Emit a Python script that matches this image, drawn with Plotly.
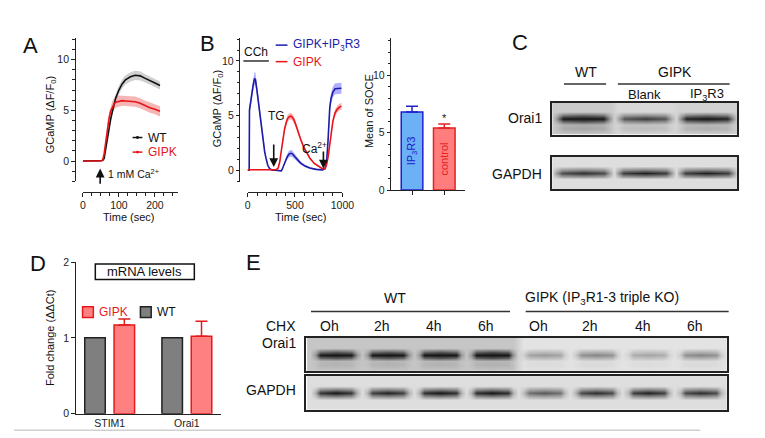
import plotly.graph_objects as go

W, H = 765, 438
def fx(p): return p / W
def fy(p): return 1 - p / H

SANS = "Liberation Sans, Arial, sans-serif"
NARROW = "Liberation Sans, Arial, sans-serif"

# ---------------- Panel A data ----------------
a_time = [0, 10, 20, 30, 40, 50, 55, 59, 64, 68, 73, 77, 82, 86, 91, 100, 109, 118, 132, 145, 159, 173, 186, 200, 214]
a_wt = [0, 0, 0, 0, 0, 0, 0.05, 0.25, 1.4, 2.3, 3.3, 4.1, 4.9, 5.5, 6.2, 7.0, 7.6, 8.0, 8.3, 8.45, 8.4, 8.15, 7.9, 7.7, 7.45]
a_wt_sem = [0.05, 0.05, 0.05, 0.05, 0.05, 0.05, 0.05, 0.1, 0.2, 0.25, 0.3, 0.35, 0.35, 0.4, 0.4, 0.45, 0.45, 0.45, 0.45, 0.45, 0.45, 0.4, 0.4, 0.4, 0.4]
a_gipk = [0, 0, 0, 0, 0, 0, 0.1, 0.7, 2.0, 3.3, 4.25, 4.9, 5.4, 5.6, 5.8, 5.9, 5.95, 5.92, 5.88, 5.85, 5.7, 5.45, 5.25, 5.1, 4.9]
a_gipk_sem = [0.05, 0.05, 0.05, 0.05, 0.05, 0.05, 0.1, 0.2, 0.4, 0.5, 0.55, 0.55, 0.55, 0.55, 0.55, 0.55, 0.5, 0.5, 0.5, 0.5, 0.5, 0.5, 0.5, 0.5, 0.5]

# ---------------- Panel B data ----------------
b_blue_t = [0, 10, 17, 20, 23, 40, 57, 73, 83, 97, 113, 130, 147, 163, 180, 197, 213, 233, 257, 290, 323, 357, 373, 390, 407,
            423, 440, 457, 473, 497, 523, 557, 607, 657, 723, 790, 817, 833, 847, 857, 867, 880, 900, 923, 957, 990]
b_blue = [0, 0, 0, 5.5, 5.7, 6.55, 7.7, 8.4, 8.3, 7.45, 6.25, 5.1, 3.9, 2.75, 1.7, 1.0, 0.45, 0.15, 0.03, 0, -0.05, -0.05, 0.25, 0.7, 1.0,
          1.3, 1.5, 1.55, 1.5, 1.25, 0.97, 0.68, 0.38, 0.2, 0.08, 0.03, 0.15, 0.7, 2.45, 4.2, 5.7, 6.55, 7.15, 7.45, 7.5, 7.5]
b_blue_sem = [0.05, 0.05, 0.05, 0.4, 0.4, 0.5, 0.6, 0.6, 0.6, 0.5, 0.4, 0.3, 0.25, 0.2, 0.15, 0.1, 0.08, 0.05, 0.05, 0.05, 0.05, 0.05, 0.1, 0.15, 0.2,
              0.25, 0.3, 0.3, 0.3, 0.25, 0.2, 0.15, 0.1, 0.08, 0.05, 0.05, 0.08, 0.15, 0.3, 0.4, 0.5, 0.5, 0.5, 0.5, 0.5, 0.5]
b_red_t = [0, 50, 100, 150, 200, 250, 300, 323, 340, 357, 373, 390, 407, 423, 440, 457, 473, 490, 507, 530, 557, 590, 623, 657, 707,
           757, 790, 817, 833, 850, 867, 883, 900, 923, 947, 973, 990]
b_red = [0.05, 0.05, 0.05, 0.05, 0.05, 0.05, 0.05, 0.2, 0.8, 1.85, 2.9, 3.75, 4.35, 4.75, 4.9, 4.95, 4.85, 4.6, 4.2, 3.55, 2.9, 2.15, 1.6, 1.1, 0.6,
         0.3, 0.15, 0.15, 0.5, 1.25, 2.45, 3.6, 4.5, 5.25, 5.6, 5.8, 5.85]
b_red_sem = [0.05, 0.05, 0.05, 0.05, 0.05, 0.05, 0.05, 0.08, 0.1, 0.15, 0.2, 0.25, 0.3, 0.3, 0.3, 0.3, 0.3, 0.3, 0.25, 0.2, 0.18, 0.15, 0.12, 0.1, 0.08,
             0.05, 0.05, 0.05, 0.08, 0.1, 0.15, 0.2, 0.25, 0.3, 0.3, 0.3, 0.3]

soce_groups = ["IP<sub>3</sub>R3", "control"]
soce_mean = [6.8, 5.4]
soce_err = [0.5, 0.35]

# ---------------- Panel C data (blot band intensities) ----------------
c_lanes = ["WT", "Blank", "IP<sub>3</sub>R3"]
c_orai1 = [0.95, 0.72, 0.93]
c_orai1_bg = [0.2, 0.13, 0.16]
c_gapdh = [0.78, 0.85, 0.85]
c_gapdh_bg = [0.1, 0.1, 0.1]

# ---------------- Panel D data ----------------
genes = ["STIM1", "Orai1"]
wt_fold = [1.0, 1.0]
gipk_fold = [1.17, 1.02]
gipk_err = [0.08, 0.2]

# ---------------- Panel E data ----------------
e_lanes = ["Oh", "2h", "4h", "6h", "Oh", "2h", "4h", "6h"]
e_orai1 = [0.9, 0.9, 0.93, 0.98, 0.35, 0.45, 0.3, 0.45]
e_orai1_bg = [0.22, 0.22, 0.22, 0.22, 0.08, 0.08, 0.08, 0.08]
e_gapdh = [0.9, 0.85, 0.93, 0.93, 0.62, 0.8, 0.85, 0.8]
e_gapdh_bg = [0.1, 0.1, 0.1, 0.1, 0.1, 0.1, 0.1, 0.1]

fig = go.Figure()

def band(x, y, sem, color, xa, ya):
    up = [v + s for v, s in zip(y, sem)]
    lo = [v - s for v, s in zip(y, sem)]
    fig.add_trace(go.Scatter(x=x, y=up, mode="lines", line=dict(width=0), xaxis=xa, yaxis=ya,
                             showlegend=False, hoverinfo="skip"))
    fig.add_trace(go.Scatter(x=x, y=lo, mode="lines", line=dict(width=0), fill="tonexty", fillcolor=color,
                             xaxis=xa, yaxis=ya, showlegend=False, hoverinfo="skip"))

def line(x, y, color, xa, ya):
    fig.add_trace(go.Scatter(x=x, y=y, mode="lines", line=dict(color=color, width=1.6), xaxis=xa, yaxis=ya,
                             showlegend=False, hoverinfo="skip"))

# Panel A
band(a_time, a_wt, a_wt_sem, "rgba(150,150,150,0.45)", "x", "y")
band(a_time, a_gipk, a_gipk_sem, "rgba(240,110,110,0.5)", "x", "y")
line(a_time, a_wt, "#111111", "x", "y")
line(a_time, a_gipk, "#e8141c", "x", "y")

# Panel B
band(b_blue_t, b_blue, b_blue_sem, "rgba(110,110,255,0.55)", "x2", "y2")
band(b_red_t, b_red, b_red_sem, "rgba(245,110,110,0.55)", "x2", "y2")
line(b_blue_t, b_blue, "#1c1ca8", "x2", "y2")
line(b_red_t, b_red, "#e8141c", "x2", "y2")

# Panel B bars (numeric positions from group index)
bar_fill = ["#6cb0f6", "#ff7d7d"]
bar_line = ["#2020cc", "#e52222"]
for i in range(len(soce_groups)):
    fig.add_trace(go.Bar(x=[i], y=[soce_mean[i]], width=0.67, xaxis="x3", yaxis="y3",
                         marker=dict(color=bar_fill[i], line=dict(color=bar_line[i], width=1.5)),
                         text=[soce_groups[i]], textposition="inside", insidetextanchor="middle",
                         textangle=-90, textfont=dict(color=bar_line[i], size=11, family=NARROW),
                         error_y=dict(type="data", array=[soce_err[i]], arrayminus=[0], symmetric=False,
                                      color=bar_line[i], thickness=1.5, width=6),
                         showlegend=False, hoverinfo="skip"))

# Panel D bars
gpos = list(range(len(genes)))
fig.add_trace(go.Bar(x=gpos, y=wt_fold, width=0.266, offset=-0.323, xaxis="x4", yaxis="y4",
                     marker=dict(color="#7f7f7f", line=dict(color="#222222", width=1.5)),
                     showlegend=False, hoverinfo="skip"))
fig.add_trace(go.Bar(x=gpos, y=gipk_fold, width=0.266, offset=0.057, xaxis="x4", yaxis="y4",
                     marker=dict(color="#ff8080", line=dict(color="#e41a1c", width=1.5)),
                     error_y=dict(type="data", array=gipk_err, arrayminus=[0, 0], symmetric=False,
                                  color="#e41a1c", thickness=1.5, width=6),
                     showlegend=False, hoverinfo="skip"))

# Blots drawn as smoothed heatmaps built from band intensities
def blot(intens, bgs, centers, xa, ya, half=0.42, smear=0.0):
    col_off = [-half, -half * 0.75, 0.0, half * 0.75, half]
    col_f = [0.25, 0.85, 1.0, 0.85, 0.25]
    rows = [-1.0, -0.62, -0.4, -0.18, 0.0, 0.18, 0.42, 1.0]
    row_f = [0.0, smear, smear * 0.8, 0.55, 1.0, 0.55, 0.0, 0.0]
    xs, cols = [], []
    n = len(centers)
    for i, c in enumerate(centers):
        if i == 0:
            xs.append(c - 0.5); cols.append((bgs[0], 0.0))
        for o, f in zip(col_off, col_f):
            xs.append(c + o); cols.append((bgs[i], intens[i] * f))
        nb = bgs[i + 1] if i + 1 < n else bgs[i]
        xs.append(c + 0.5); cols.append(((bgs[i] + nb) / 2, 0.0))
    z = [[min(1.0, b + v * rf) for (b, v) in cols] for rf in row_f]
    fig.add_trace(go.Heatmap(x=xs, y=rows, z=z, zmin=0, zmax=1, zsmooth="best", showscale=False,
                             colorscale=[[0, "#f3f3f3"], [0.5, "#8c8c8c"], [1, "#151515"]],
                             xaxis=xa, yaxis=ya, hoverinfo="skip"))

c_pos = [0.5 + i for i in range(len(c_lanes))]
e_pos = list(range(len(e_lanes)))
blot(c_orai1, c_orai1_bg, c_pos, "x5", "y5", half=0.44, smear=0.18)
blot(c_gapdh, c_gapdh_bg, c_pos, "x6", "y6", half=0.46)
blot(e_orai1, e_orai1_bg, e_pos, "x7", "y7", half=0.4, smear=0.1)
blot(e_gapdh, e_gapdh_bg, e_pos, "x8", "y8", half=0.4)

tickfont = dict(family=NARROW, size=10.5, color="#222")
MINOR = dict(ticks="outside", ticklen=2.5, tickcolor="#222", tick0=0)
def num_axis(**kw):
    d = dict(showline=True, linecolor="#222", linewidth=1.2, ticks="outside", ticklen=3.5, tickwidth=1.2,
             tickcolor="#222", showgrid=False, zeroline=False, tickfont=tickfont)
    d.update(kw)
    return d

def box_axis(**kw):
    d = dict(showline=True, mirror=True, linecolor="#222", linewidth=1.6, ticks="", showticklabels=False,
             showgrid=False, zeroline=False)
    d.update(kw)
    return d

layout = dict(
    width=W, height=H, margin=dict(l=0, r=0, t=0, b=0),
    paper_bgcolor="white", plot_bgcolor="white", barmode="overlay",
    font=dict(family=SANS, color="#111"),
    xaxis=num_axis(domain=[fx(73.3), fx(170)], range=[0, 263], anchor="free", position=fy(183),
                   dtick=100, tick0=0, minor=dict(MINOR, dtick=25)),
    yaxis=num_axis(domain=[fy(172), fy(25)], range=[-2, 12.1], anchor="free", position=fx(65),
                   dtick=5, tick0=0, minor=dict(MINOR, dtick=1)),
    xaxis2=num_axis(domain=[fx(241.3), fx(338)], range=[0, 1000], anchor="free", position=fy(183),
                    dtick=500, tick0=0, minor=dict(MINOR, dtick=100)),
    yaxis2=num_axis(domain=[fy(173), fy(25)], range=[-1.1, 12.07], anchor="free", position=fx(233),
                    dtick=5, tick0=0, minor=dict(MINOR, dtick=1)),
    xaxis3=num_axis(domain=[fx(388), fx(463)], range=[-0.64, 1.64], anchor="y3", showticklabels=False,
                    tickvals=list(range(len(soce_groups)))),
    yaxis3=num_axis(domain=[fy(181), fy(25)], range=[0, 13.2], anchor="x3", dtick=5, tick0=0,
                    minor=dict(MINOR, dtick=1)),
    xaxis4=num_axis(domain=[fx(66), fx(214)], range=[-0.44, 1.44], anchor="y4", ticks="",
                    tickvals=gpos, ticktext=genes),
    yaxis4=num_axis(domain=[fy(411), fy(255)], range=[0, 2], anchor="x4", dtick=1, tick0=0),
    xaxis5=box_axis(domain=[fx(552), fx(741)], range=[0, 3], anchor="y5"),
    yaxis5=box_axis(domain=[fy(124), fy(91)], range=[-1, 1], anchor="x5"),
    xaxis6=box_axis(domain=[fx(552), fx(741)], range=[0, 3], anchor="y6"),
    yaxis6=box_axis(domain=[fy(180), fy(147)], range=[-1, 1], anchor="x6"),
    xaxis7=box_axis(domain=[fx(301), fx(730)], range=[-0.57, 7.5], anchor="y7"),
    yaxis7=box_axis(domain=[fy(367), fy(333)], range=[-1, 1], anchor="x7"),
    xaxis8=box_axis(domain=[fx(301), fx(730)], range=[-0.57, 7.5], anchor="y8"),
    yaxis8=box_axis(domain=[fy(407), fy(372)], range=[-1, 1], anchor="x8"),
)
fig.update_layout(**layout)

anns = []
shapes = []
def ann(text, x, y, size=12, color="#111", xanchor="center", yanchor="middle", angle=0, family=SANS,
        xref="paper", yref="paper", xshift=0):
    anns.append(dict(text=text, x=fx(x) if xref == "paper" else x, y=fy(y) if yref == "paper" else y,
                     xref=xref, yref=yref, showarrow=False, xanchor=xanchor, yanchor=yanchor,
                     textangle=angle, xshift=xshift, font=dict(size=size, color=color, family=family)))

def pline(x0, y0, x1, y1, color="#222", width=1.5):
    shapes.append(dict(type="line", xref="paper", yref="paper", x0=fx(x0), y0=fy(y0), x1=fx(x1), y1=fy(y1),
                       line=dict(color=color, width=width)))

def arrow(x, y, ax, ay, xr, yr):
    anns.append(dict(text="", x=x, y=y, ax=ax, ay=ay, xref=xr, yref=yr, axref=xr, ayref=yr, showarrow=True,
                     arrowhead=2, arrowsize=1.1, arrowwidth=1.6, arrowcolor="#111"))

# panel letters
for t, x, y in [("A", 20, 32), ("B", 200, 30), ("C", 519, 29), ("D", 28, 257), ("E", 247, 255)]:
    ann(t, x, y, size=22)

# Panel A texts
ann("GCaMP (ΔF/F<sub>0</sub>)", 41, 104, size=11, angle=-90, family=NARROW)
ann("Time (sec)", 120, 209, size=11, family=NARROW)
pline(124, 127, 134, 127, "#111", 1.5)
pline(124, 142, 134, 142, "#e8141c", 1.5)
shapes.append(dict(type="circle", xref="paper", yref="paper", x0=fx(127.5), x1=fx(130.5), y0=fy(128.5), y1=fy(125.5),
                   fillcolor="#111", line=dict(width=0)))
shapes.append(dict(type="circle", xref="paper", yref="paper", x0=fx(127.5), x1=fx(130.5), y0=fy(143.5), y1=fy(140.5),
                   fillcolor="#e8141c", line=dict(width=0)))
ann("WT", 138, 127, size=12, xanchor="left", family=NARROW)
ann("GIPK", 138, 142, size=12, color="#e8141c", xanchor="left", family=NARROW)
arrow(48, -0.75, 48, -2.4, "x", "y")
ann("1 mM Ca<sup>2+</sup>", 97, 164, size=10.5, xanchor="left", family=NARROW)

# Panel B texts
ann("GCaMP (ΔF/F<sub>0</sub>)", 211, 97, size=11, angle=-90, family=NARROW)
ann("Time (sec)", 296, 209, size=11, family=NARROW)
ann("CCh", 250, 39, size=12, family=NARROW)
pline(237, 48.3, 263, 48.3, "#111", 1.3)
pline(270, 32, 282, 32, "#1c1ca8", 1.5)
pline(270, 49, 282, 49, "#e8141c", 1.5)
ann("GIPK+IP<sub>3</sub>R3", 286, 32, size=12, color="#1c1ca8", xanchor="left", family=NARROW)
ann("GIPK", 286, 49, size=12, color="#e8141c", xanchor="left", family=NARROW)
ann("TG", 271, 105, size=12, family=NARROW)
arrow(276, 0.3, 276, 2.5, "x2", "y2")
ann("Ca<sup>2+</sup>", 310, 138, size=12, family=NARROW)
arrow(800, 0.15, 800, 1.85, "x2", "y2")

# Panel B bar texts
ann("Mean of SOCE", 365, 100, size=11, angle=-90, family=NARROW)
ann("*", 1, 6.3, size=11, xref="x3", yref="y3")

# Panel C texts
ann("WT", 586, 60, size=14)
pline(564, 72, 607, 72, "#333", 1.5)
ann("GIPK", 677, 60, size=14)
pline(619, 72, 733, 72, "#333", 1.5)
for i in (1, 2):
    ann(c_lanes[i], c_pos[i], 83, size=13, xref="x5")
ann("Orai1", 544, 107, size=14, xanchor="right")
ann("GAPDH", 544, 164, size=14, xanchor="right")

# Panel D texts
shapes.append(dict(type="rect", xref="paper", yref="paper", x0=fx(86), x1=fx(187), y0=fy(273), y1=fy(257),
                   line=dict(color="#111", width=1.5), fillcolor="white"))
ann("mRNA levels", 136.5, 265, size=13)
shapes.append(dict(type="rect", xref="paper", yref="paper", x0=fx(73), x1=fx(84), y0=fy(312), y1=fy(301),
                   line=dict(color="#e41a1c", width=1.5), fillcolor="#ff8080"))
ann("GIPK", 88, 306.5, size=12, color="#e41a1c", xanchor="left", family=NARROW)
shapes.append(dict(type="rect", xref="paper", yref="paper", x0=fx(132), x1=fx(143), y0=fy(312), y1=fy(301),
                   line=dict(color="#222", width=1.5), fillcolor="#7f7f7f"))
ann("WT", 147, 306.5, size=12, xanchor="left", family=NARROW)
ann("Fold change (ΔΔCt)", 40, 333, size=11, angle=-90, family=NARROW)

# Panel E texts
ann("WT", 392, 292, size=14)
pline(306, 306, 509, 306, "#333", 1.5)
ann("GIPK (IP<sub>3</sub>R1-3 triple KO)", 603, 292, size=14)
pline(525, 306, 732, 306, "#333", 1.5)
ann("CHX", 293, 321, size=14, xanchor="right")
for i, lab in enumerate(e_lanes):
    ann(lab, e_pos[i], 321, size=14, xref="x7", xshift=-6)
ann("Orai1", 293, 338, size=14, xanchor="right")
ann("GAPDH", 293, 387, size=14, xanchor="right")

# bottom separator
pline(3, 428, 703, 428, "#d0d0d0", 1.5)

fig.update_layout(annotations=anns, shapes=shapes)
fig.write_html("out.html")
